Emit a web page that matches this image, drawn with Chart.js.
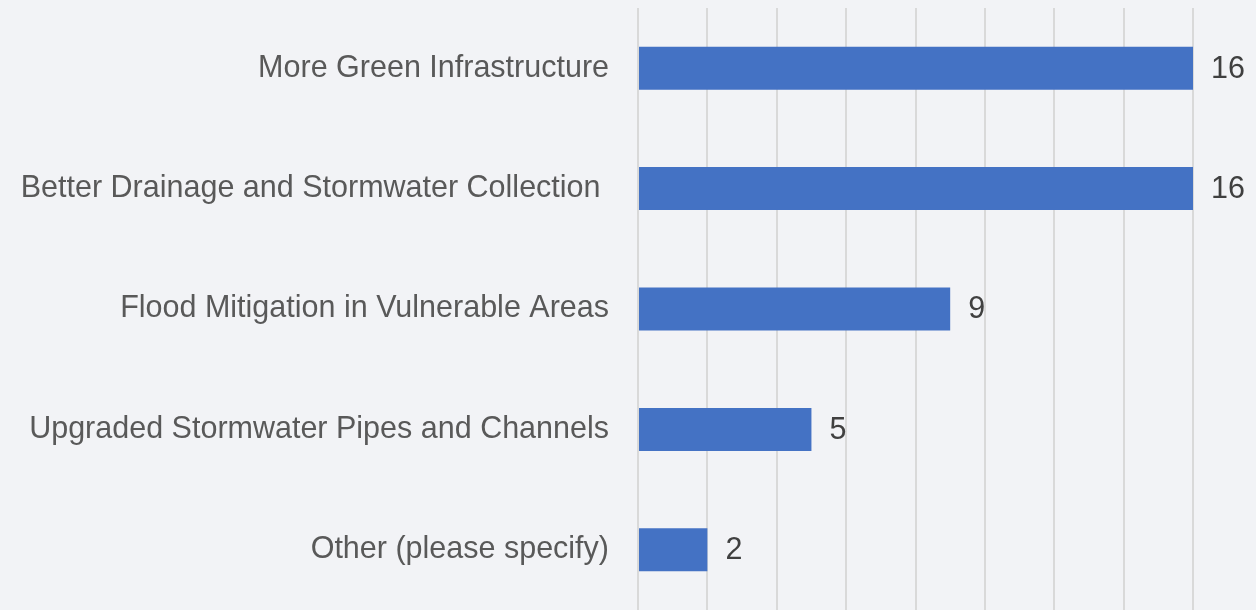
<!DOCTYPE html>
<html>
<head>
<meta charset="utf-8">
<script src="https://cdn.jsdelivr.net/npm/chart.js@4.4.1/dist/chart.umd.min.js"></script>
<style>
  html, body { margin: 0; padding: 0; background: #f2f3f6; }
  #wrap { width: 1256px; height: 610px; }
</style>
</head>
<body>
<div id="wrap"><canvas id="chart"></canvas></div>
<script>
// --- Data ---
const categories = [
    'More Green Infrastructure',
    'Better Drainage and Stormwater Collection ',
    'Flood Mitigation in Vulnerable Areas',
    'Upgraded Stormwater Pipes and Channels',
    'Other (please specify)'
];
const responses = [16, 16, 9, 5, 2];

const axisMin = 0;
const axisMax = 16;
const axisStep = 2;

// Value labels drawn at the end of each bar
const valueLabels = {
    id: 'valueLabels',
    afterDatasetsDraw(chart) {
        const ctx = chart.ctx;
        const meta = chart.getDatasetMeta(0);
        ctx.save();
        ctx.font = '30.5px "Liberation Sans", Arial, sans-serif';
        ctx.fillStyle = '#404040';
        ctx.textAlign = 'left';
        ctx.textBaseline = 'middle';
        meta.data.forEach((bar, i) => {
            ctx.fillText(String(responses[i]), bar.x + 18, bar.y + 1);
        });
        ctx.restore();
    }
};

const ctx = document.getElementById('chart').getContext('2d');
new Chart(ctx, {
    type: 'bar',
    data: {
        labels: categories,
        datasets: [{
            data: responses,
            backgroundColor: '#4472c4',
            borderWidth: 0,
            categoryPercentage: 1,
            barPercentage: 0.357
        }]
    },
    options: {
        indexAxis: 'y',
        responsive: true,
        maintainAspectRatio: false,
        animation: false,
        layout: { padding: { top: 8, right: 63, bottom: 0, left: 0 } },
        plugins: {
            legend: { display: false },
            tooltip: { enabled: false }
        },
        scales: {
            x: {
                min: axisMin,
                max: axisMax,
                ticks: { display: false, stepSize: axisStep },
                grid: { color: '#d9d9d9', lineWidth: 2, drawTicks: false },
                border: { display: false },
                afterFit(scale) {
                    scale.height = 0;
                    scale.paddingLeft = 0;
                    scale.paddingRight = 0;
                }
            },
            y: {
                ticks: {
                    color: '#595959',
                    padding: 29,
                    font: { family: '"Liberation Sans", Arial, sans-serif', size: 30.5 }
                },
                grid: { display: false, drawTicks: false },
                border: { display: false },
                afterFit(scale) {
                    scale.width = 638;
                    scale.paddingTop = 0;
                    scale.paddingBottom = 0;
                }
            }
        }
    },
    plugins: [valueLabels]
});
</script>
</body>
</html>
